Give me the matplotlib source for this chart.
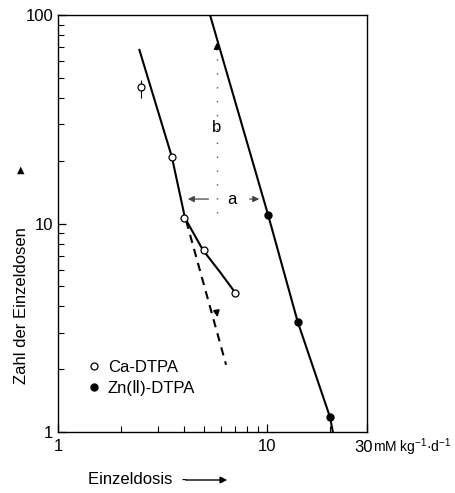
import numpy as np
import matplotlib
matplotlib.use('Agg')
import matplotlib.pyplot as plt

# 字体：无衬线，缺字时回退到 DejaVu Sans
plt.rcParams['font.family'] = ['Liberation Sans', 'DejaVu Sans']
plt.rcParams['mathtext.fontset'] = 'custom'
plt.rcParams['mathtext.rm'] = 'Liberation Sans'
plt.rcParams['mathtext.it'] = 'Liberation Sans'

# 数据
ca_x = [2.49, 3.50, 4.0, 5.0, 7.0]
ca_y = [45.2, 20.8, 10.6, 7.46, 4.64]
ca_err_lo = [5.0, 0, 0, 0, 0]
ca_err_hi = [3.5, 0, 0, 0, 0]
ca_curve_x = [2.45, 3.50, 4.05, 4.93, 5.95, 7.0]
ca_curve_y = [68.0, 20.9, 10.6, 7.46, 5.85, 4.69]

zn_x = [10.1, 14.0, 19.96]
zn_y = [11.0, 3.37, 1.18]
zn_curve_x = [5.33, 10.1, 14.0, 19.96, 20.6]
zn_curve_y = [100.0, 11.0, 3.37, 1.18, 1.0]

dash_x = [4.1, 6.36]
dash_y = [10.3, 2.1]

b_x = 5.75
b_y = [11.2, 76.0]
a_y = 13.1
a_x = [4.05, 9.45]

fig = plt.figure(figsize=(4.55, 4.93), dpi=100)
ax = fig.add_axes([58 / 455, 61 / 493, 309 / 455, 417 / 493])
ax.set_xscale('log')
ax.set_yscale('log')
ax.set_xlim(1, 30)
ax.set_ylim(1, 100)

# 曲线
ax.plot(ca_curve_x, ca_curve_y, color='black', lw=1.5, zorder=2)
ax.plot(zn_curve_x, zn_curve_y, color='black', lw=1.5, zorder=2)
ax.plot(dash_x, dash_y, color='black', lw=1.5, ls=(0, (4, 3)), zorder=2)
ax.annotate('', xy=(5.82, 3.45), xytext=(5.7, 3.9),
            arrowprops=dict(arrowstyle='-|>', color='black', lw=1.2, mutation_scale=9))

# 数据点
ax.errorbar(ca_x, ca_y, yerr=[ca_err_lo, ca_err_hi], fmt='none',
            ecolor='black', elinewidth=0.8, capsize=0, zorder=3)
h_ca, = ax.plot(ca_x, ca_y, 'o', mfc='white', mec='black', ms=5, mew=0.9, zorder=4,
                label='Ca-DTPA')
h_zn, = ax.plot(zn_x, zn_y, 'o', color='black', ms=5, zorder=4, label='Zn(Ⅱ)-DTPA')

# b: 竖直虚线与箭头
ax.plot([b_x, b_x], b_y, color='#555555', lw=1.0, ls=(0, (1, 9)))
ax.annotate('', xy=(b_x, b_y[1]), xytext=(b_x, 66),
            arrowprops=dict(arrowstyle='-|>', color='black', lw=1.0, mutation_scale=9))
ax.text(b_x, 29, 'b', ha='center', va='center', fontsize=12)

# a: 水平双箭头
a_mid = 6.75
ax.annotate('', xy=(a_x[0], a_y), xytext=(5.4, a_y),
            arrowprops=dict(arrowstyle='-|>', color='#444444', lw=0.9, mutation_scale=9))
ax.annotate('', xy=(a_x[1], a_y), xytext=(8.0, a_y),
            arrowprops=dict(arrowstyle='-|>', color='#444444', lw=0.9, mutation_scale=9))
ax.text(a_mid, a_y, 'a', ha='center', va='center', fontsize=12)

# 坐标轴
ax.set_xticks([1, 10, 30])
ax.set_xticklabels(['1', '10', ''])
ax.set_yticks([1, 10, 100])
ax.set_yticklabels(['1', '10', '100'])
ax.xaxis.set_minor_locator(matplotlib.ticker.LogLocator(subs=np.arange(2, 10)))
ax.yaxis.set_minor_locator(matplotlib.ticker.LogLocator(subs=np.arange(2, 10)))
ax.xaxis.set_minor_formatter(matplotlib.ticker.NullFormatter())
ax.yaxis.set_minor_formatter(matplotlib.ticker.NullFormatter())
ax.tick_params(which='both', direction='in', labelsize=12)
ax.tick_params(which='major', length=6, width=0.9)
ax.tick_params(which='minor', length=4, width=0.8)
ax.tick_params(axis='x', pad=5)
for s in ax.spines.values():
    s.set_linewidth(1.0)

ax.legend(handles=[h_ca, h_zn], loc='lower left', bbox_to_anchor=(0.08, 0.07),
          frameon=False, fontsize=12, handlelength=0.6, handletextpad=0.5,
          borderaxespad=0, labelspacing=0.3)

# 右端刻度 "30" 与单位
fig.text(354 / 455, 1 - 447 / 493, '30', fontsize=12, va='center', ha='left')
fig.text(373 / 455, 1 - 447 / 493, r'mM kg$^{-1}$·d$^{-1}$', fontsize=10,
         va='center', ha='left')

# 轴标题与箭头
fig.text(22 / 455, 1 - 306 / 493, 'Zahl der Einzeldosen', rotation=90, fontsize=12,
         ha='center', va='center')
fig.text(21 / 455, 1 - 170 / 493, '▲', fontsize=7, ha='center', va='center',
         family=['DejaVu Sans'])
fig.text(88 / 455, 1 - 480 / 493, 'Einzeldosis  -', fontsize=12, ha='left', va='center')
fig.patches.append(matplotlib.patches.FancyArrowPatch(
    (183 / 455, 1 - 480 / 493), (230 / 455, 1 - 480 / 493), transform=fig.transFigure,
    arrowstyle='-|>', mutation_scale=10, color='black', lw=1.0))

fig.savefig('out.png', dpi=100)
